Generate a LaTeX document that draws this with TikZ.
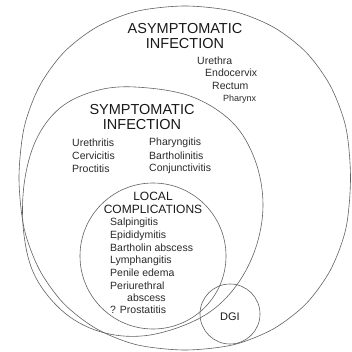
\documentclass[tikz,border=0pt]{standalone}
\usepackage{fontspec}
\setmainfont{Liberation Sans}
\usetikzlibrary{shapes.geometric}
\begin{document}
\begin{tikzpicture}[x=1pt,y=-1pt,
  ringline/.style={draw=black!62, line width=0.6pt},
  ring/.style={draw=black!62, line width=0.6pt, inner sep=0pt},
  title/.style={text=black!90, font=\fontsize{14.5}{15}\selectfont, align=center, inner sep=0pt},
  subtitle/.style={text=black!90, font=\fontsize{12}{13.5}\selectfont, align=center, inner sep=0pt},
  item/.style={text=black!84, font=\fontsize{10.5}{12.5}\selectfont, anchor=west, inner sep=0pt},
  smallitem/.style={text=black!84, font=\fontsize{9}{10}\selectfont, anchor=west, inner sep=0pt}]
\useasboundingbox (0,0) rectangle (351,352);
% outer: asymptomatic infection
\draw[ringline] plot[smooth cycle] coordinates {
  (350.5,178) (345.9,127.6) (330.6,86.3) (306.2,52.4) (273.5,27.2) (233.6,11.3)
  (185,6) (136.4,11.3) (96.5,27.2) (63.8,52.4) (39.4,86.3) (24.1,127.6)
  (19,178) (24.1,228.4) (39.4,269.7) (63.8,303.6) (96.5,328.8) (136.4,344.7)
  (185,350) (233.6,344.7) (273.5,328.8) (306.2,303.6) (330.6,269.7) (345.9,228.4)};
% symptomatic infection
\draw[ringline] plot[smooth cycle, tension=0.6] coordinates {
  (135,87) (190,96) (232,122) (255,160) (263,205) (255,250) (233,290)
  (200,318) (150,335) (105,333) (66,314) (36,278) (24,235) (24,185)
  (36,140) (60,108) (95,91)};
% local complications and DGI
\node[ring, circle, minimum size=146pt] (loc) at (153,256) {};
\node[ring, circle, minimum size=60pt] (dgi) at (230,314) {};
% asymptomatic
\node[title] (asymt) at (185,36) {ASYMPTOMATIC\\INFECTION};
\node[item] (a1) at (197,61) {Urethra};
\node[item] (a2) at (205,73) {Endocervix};
\node[item] (a3) at (212,86) {Rectum};
\node[smallitem] (a4) at (223,99) {Pharynx};
% symptomatic
\node[title] (symt) at (142,117) {SYMPTOMATIC\\INFECTION};
\node[item] (s1) at (72,143) {Urethritis};
\node[item] (s2) at (72,156) {Cervicitis};
\node[item] (s3) at (72,169) {Proctitis};
\node[item] (s4) at (149,143) {Pharyngitis};
\node[item] (s5) at (149,156) {Bartholinitis};
\node[item] (s6) at (149,169) {Conjunctivitis};
% local complications
\node[subtitle] (loct) at (153,203) {LOCAL\\COMPLICATIONS};
\node[item] (l1) at (110,223) {Salpingitis};
\node[item] (l2) at (110,236) {Epididymitis};
\node[item] (l3) at (110,248) {Bartholin abscess};
\node[item] (l4) at (110,261) {Lymphangitis};
\node[item] (l5) at (110,273) {Penile edema};
\node[item] (l6) at (110,286) {Periurethral};
\node[item] (l7) at (127,298) {abscess};
\node[item] (l8) at (110,310) {? Prostatitis};
% DGI
\node[subtitle, font=\fontsize{11}{12}\selectfont] (dgit) at (230,317) {DGI};
\end{tikzpicture}
\end{document}
